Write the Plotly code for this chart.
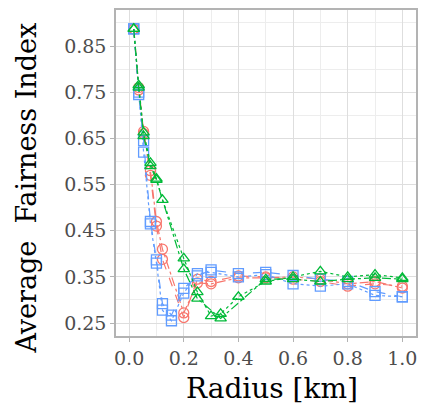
import plotly.graph_objects as go

# Radius values (km) per series and fairness values
blue_a_x = [0.017, 0.035, 0.053, 0.078, 0.10, 0.122, 0.155, 0.2, 0.25, 0.3, 0.4, 0.5, 0.6, 0.7, 0.8, 0.9, 1.0]
blue_a_y = [0.887, 0.745, 0.645, 0.470, 0.387, 0.292, 0.267, 0.325, 0.352, 0.365, 0.357, 0.360, 0.353, 0.345, 0.340, 0.318, 0.307]
blue_b_x = [0.017, 0.035, 0.053, 0.078, 0.10, 0.122, 0.155, 0.2, 0.25, 0.3, 0.4, 0.5, 0.6, 0.7, 0.8, 0.9, 1.0]
blue_b_y = [0.887, 0.750, 0.620, 0.465, 0.380, 0.278, 0.255, 0.315, 0.357, 0.360, 0.350, 0.355, 0.335, 0.330, 0.335, 0.310, 0.307]

red_a_x = [0.017, 0.035, 0.053, 0.078, 0.10, 0.122, 0.2, 0.25, 0.3, 0.4, 0.5, 0.6, 0.7, 0.8, 0.9, 1.0]
red_a_y = [0.887, 0.760, 0.665, 0.580, 0.470, 0.410, 0.272, 0.337, 0.335, 0.348, 0.348, 0.350, 0.345, 0.335, 0.340, 0.326]
red_b_x = [0.017, 0.035, 0.053, 0.078, 0.10, 0.122, 0.2, 0.25, 0.3, 0.4, 0.5, 0.6, 0.7, 0.8, 0.9, 1.0]
red_b_y = [0.887, 0.755, 0.660, 0.570, 0.460, 0.388, 0.262, 0.345, 0.340, 0.352, 0.350, 0.345, 0.340, 0.330, 0.335, 0.330]

green_a_x = [0.017, 0.035, 0.053, 0.078, 0.10, 0.122, 0.2, 0.25, 0.3, 0.335, 0.4, 0.5, 0.6, 0.7, 0.8, 0.9, 1.0]
green_a_y = [0.887, 0.765, 0.663, 0.597, 0.563, 0.517, 0.390, 0.317, 0.265, 0.270, 0.307, 0.340, 0.350, 0.362, 0.350, 0.355, 0.348]
green_b_x = [0.017, 0.035, 0.053, 0.078, 0.10, 0.2, 0.25, 0.335, 0.5, 0.6, 0.7, 0.8, 0.9, 1.0]
green_b_y = [0.887, 0.760, 0.655, 0.590, 0.560, 0.367, 0.303, 0.260, 0.345, 0.345, 0.340, 0.345, 0.348, 0.345]

x_ticks = [0.0, 0.2, 0.4, 0.6, 0.8, 1.0]
x_tick_labels = ["0.0", "0.2", "0.4", "0.6", "0.8", "1.0"]
y_ticks = [0.25, 0.35, 0.45, 0.55, 0.65, 0.75, 0.85]
y_tick_labels = ["0.25", "0.35", "0.45", "0.55", "0.65", "0.75", "0.85"]

x_title = "Radius [km]"
y_title = "Average  Fairness Index"

RED = "#F8766D"
GREEN = "#00BA38"
BLUE = "#619CFF"

series = [
    (red_a_x, red_a_y, RED, "circle-open", "dashdot"),
    (red_b_x, red_b_y, RED, "circle-open", "dash"),
    (blue_a_x, blue_a_y, BLUE, "square-open", "dash"),
    (blue_b_x, blue_b_y, BLUE, "square-open", "dot"),
    (green_a_x, green_a_y, GREEN, "triangle-up-open", "dot"),
    (green_b_x, green_b_y, GREEN, "triangle-up-open", "dashdot"),
]

fig = go.Figure()
for xs, ys, col, sym, dash in series:
    fig.add_trace(go.Scatter(
        x=xs, y=ys, mode="lines+markers",
        line=dict(color=col, width=1.2, dash=dash),
        marker=dict(symbol=sym, size=10, color=col, line=dict(color=col, width=1.3)),
        showlegend=False,
    ))

grid_major = "#DEDEDE"
grid_minor = "#EDEDED"
border = "#B3B3B3"
font_family = "DejaVu Serif"

W, H = 421, 409
ML, MR, MT, MB = 116, 3, 10, 73
PW, PH = W - ML - MR, H - MT - MB

fig.update_layout(
    width=W, height=H,
    margin=dict(l=ML, r=MR, t=MT, b=MB),
    paper_bgcolor="white", plot_bgcolor="white",
    font=dict(family=font_family, color="#4D4D4D", size=19),
    showlegend=False,
)
fig.update_xaxes(
    range=[-0.048, 1.05],
    tickvals=x_ticks, ticktext=x_tick_labels,
    ticks="outside", ticklen=4, tickcolor=border, tickwidth=1,
    showgrid=True, gridcolor=grid_major, gridwidth=1.3,
    minor=dict(dtick=0.1, tick0=0.1, showgrid=True, gridcolor=grid_minor, gridwidth=0.8),
    showline=True, mirror=True, linecolor=border, linewidth=1.5,
    zeroline=False,
    tickfont=dict(family=font_family, size=19, color="#4D4D4D"),
)
fig.update_yaxes(
    range=[0.222, 0.928],
    tickvals=y_ticks, ticktext=y_tick_labels,
    ticks="outside", ticklen=4, tickcolor=border, tickwidth=1,
    showgrid=True, gridcolor=grid_major, gridwidth=1.3,
    minor=dict(dtick=0.05, tick0=0.2, showgrid=True, gridcolor=grid_minor, gridwidth=0.8),
    showline=True, mirror=True, linecolor=border, linewidth=1.5,
    zeroline=False,
    tickfont=dict(family=font_family, size=19, color="#4D4D4D"),
)

# axis titles as annotations (placed in pixel terms relative to the plot area)
fig.add_annotation(
    text=x_title, xref="paper", yref="paper",
    x=(273 - ML) / PW, y=(H - MB - 388) / PH,
    xanchor="center", yanchor="middle", showarrow=False,
    font=dict(family=font_family, size=28, color="black"),
)
fig.add_annotation(
    text=y_title, xref="paper", yref="paper",
    x=(25 - ML) / PW, y=(H - MB - 188) / PH, textangle=-90,
    xanchor="center", yanchor="middle", showarrow=False,
    font=dict(family=font_family, size=27, color="black"),
)

fig.write_html("out.html", config={"displayModeBar": False},
               post_script="document.body.style.margin='0';document.body.style.overflow='hidden';")
